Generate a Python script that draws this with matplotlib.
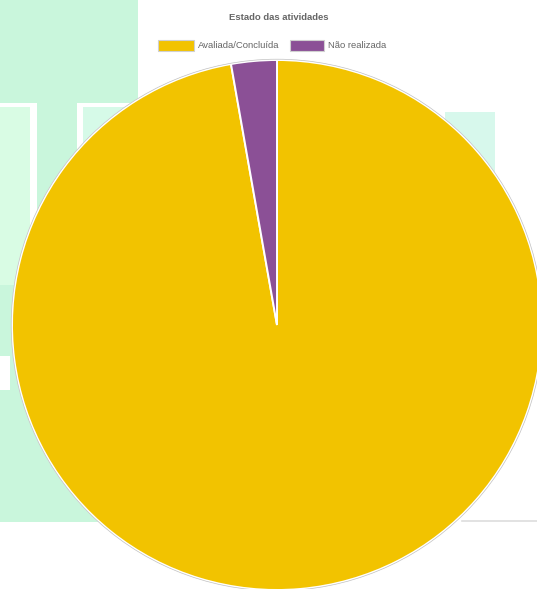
import matplotlib.pyplot as plt
from matplotlib.patches import Rectangle

plt.rcParams["font.family"] = ["Liberation Sans", "DejaVu Sans"]

# Estado das atividades
labels = ["Avaliada/Concluída", "Não realizada"]
values = [35, 1]
colors = ["#f2c300", "#8b5096"]

W, H = 537, 589
fig = plt.figure(figsize=(W / 100, H / 100), dpi=100)
fig.patch.set_facecolor("white")

# page background behind the chart (pixel coordinates, origin top-left)
bg = fig.add_axes([0, 0, 1, 1])
bg.set_xlim(0, W)
bg.set_ylim(H, 0)
bg.axis("off")
bg.add_patch(Rectangle((0, 0), 138, 522, color="#c9f6dc", lw=0))
bg.add_patch(Rectangle((0, 103), 37, 182, color="white", lw=0))
bg.add_patch(Rectangle((0, 107), 30, 178, color="#d9fce4", lw=0))
bg.add_patch(Rectangle((77, 103), 61, 182, color="white", lw=0))
bg.add_patch(Rectangle((83, 107), 55, 178, color="#d6fae8", lw=0))
bg.add_patch(Rectangle((445, 112), 50, 120, color="#d7f8ec", lw=0))
bg.add_patch(Rectangle((0, 356), 10, 34, color="white", lw=0))
bg.plot([462, W], [521, 521], color="#dddddd", lw=1.2)

# pie: center (277, 325) px, radius 265 px
cx, cy, r = 277, 325, 265
ax = fig.add_axes([0, 0, 1, 1])
ax.pie(values, colors=colors, startangle=90, counterclock=False,
       radius=1.0, wedgeprops=dict(edgecolor="white", linewidth=1.4))
ax.add_patch(plt.Circle((0, 0), 1.003, fill=False, ec="#c0c0c0", lw=0.5))
ax.set_aspect("auto")
ax.set_xlim(-cx / r, (W - cx) / r)
ax.set_ylim(-(H - cy) / r, cy / r)
ax.axis("off")

fig.text(279 / W, 1 - 17 / H, "Estado das atividades", ha="center",
         va="center", fontsize=6.8, fontweight="bold", color="#666666")

# legend row
items = [(158, 194, labels[0], colors[0]), (290, 324, labels[1], colors[1])]
for x0, x1, lab, col in items:
    bg.add_patch(Rectangle((x0, 40), x1 - x0, 11, facecolor=col,
                           edgecolor="#d0d0d0", lw=0.8))
    bg.text(x1 + 4, 46, lab, ha="left", va="center", fontsize=6.8,
            color="#666666")

fig.savefig("out.png", dpi=100)
